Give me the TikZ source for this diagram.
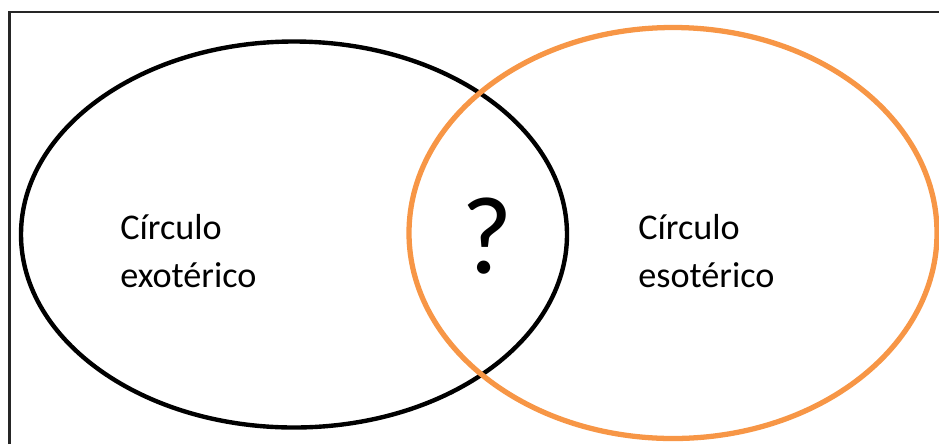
\documentclass[tikz,border=0pt]{standalone}
\usepackage{fontspec}
\setmainfont{Carlito}
\definecolor{esoorange}{HTML}{F79646}
\tikzset{label text/.style={font=\fontsize{20.6}{27.8}\selectfont, align=left, anchor=west, inner sep=0pt}}

\begin{document}
\begin{tikzpicture}[x=0.02cm, y=-0.02cm]
        \useasboundingbox (0,0) rectangle (939,444);

        % Frame (runs off the right and bottom edge)
        \draw[black!85, line width=1.5pt] (9.5,444) -- (9.5,12) -- (939,12);

        % Exoteric circle
        \draw[black, line width=2.5pt] (294,234.5) ellipse [x radius=273, y radius=193];
        \node[label text] (exo) at (120,251) {Círculo\\exotérico};

        % Esoteric circle
        \draw[esoorange, line width=3pt] (673,233) ellipse [x radius=264, y radius=205.5];
        \node[label text] (eso) at (638,251) {Círculo\\esotérico};

        % Overlap
        \node[font=\fontsize{63}{70}\selectfont, inner sep=0pt] (ask) at (487,236) {?};
    \end{tikzpicture}
\end{document}
